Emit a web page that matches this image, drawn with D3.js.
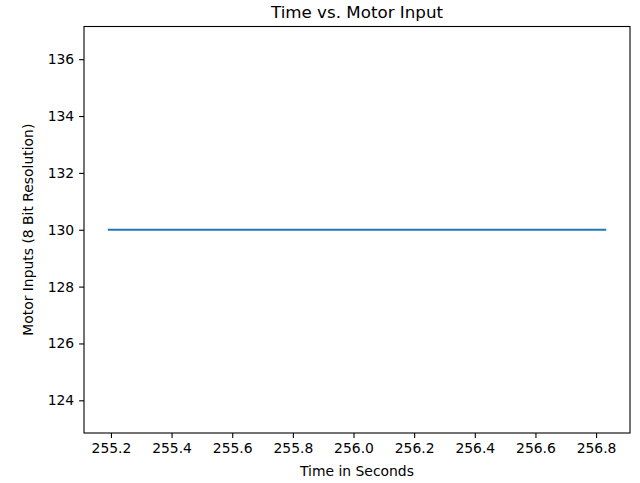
<!DOCTYPE html>
<html><head><meta charset="utf-8">
<script src="https://cdn.jsdelivr.net/npm/d3@7"></script>
<style>html,body{margin:0;padding:0;background:#fff;}svg{display:block;}</style>
</head><body>
<script>
const times = [255.193, 255.35, 255.52, 255.68, 255.85, 256.01, 256.18, 256.34, 256.51, 256.67, 256.83];
const motorInputs = [130, 130, 130, 130, 130, 130, 130, 130, 130, 130, 130];
const xTicks = [255.2, 255.4, 255.6, 255.8, 256.0, 256.2, 256.4, 256.6, 256.8];
const yTicks = [124, 126, 128, 130, 132, 134, 136];
const titleText = "Time vs. Motor Input";
const xLabel = "Time in Seconds";
const yLabel = "Motor Inputs (8 Bit Resolution)";

const W = 640, H = 483;
const m = {left: 84, right: 10, top: 26.5, bottom: 50};
const iw = W - m.left - m.right, ih = H - m.top - m.bottom;
const font = "'DejaVu Sans', sans-serif";

const svg = d3.select("body").append("svg").attr("width", W).attr("height", H);
const g = svg.append("g").attr("transform", `translate(${m.left},${m.top})`);

const xMin = d3.min(times), xMax = d3.max(times), xr = xMax - xMin;
const x = d3.scaleLinear().domain([xMin - 0.05 * xr, xMax + 0.05 * xr]).range([0, iw]);
const yv = 130, lo = yv - yv * 0.05, hi = yv + yv * 0.05, yr = hi - lo;
const y = d3.scaleLinear().domain([lo - 0.05 * yr, hi + 0.05 * yr]).range([ih, 0]);

const tk = 4.9;
const xa = g.append("g").attr("transform", `translate(0,${ih})`)
  .call(d3.axisBottom(x).tickValues(xTicks).tickFormat(d3.format(".1f")).tickSize(tk).tickPadding(4.9).tickSizeOuter(0));
const ya = g.append("g")
  .call(d3.axisLeft(y).tickValues(yTicks).tickFormat(d3.format("d")).tickSize(tk).tickPadding(4.9).tickSizeOuter(0));
[xa, ya].forEach(a => {
  a.select(".domain").remove();
  a.selectAll("line").attr("stroke", "#000").attr("stroke-width", 1.1);
  a.selectAll("text").attr("font-family", font).attr("font-size", 13.9).attr("fill", "#000");
});

g.append("path")
  .datum(times.map((t, i) => [t, motorInputs[i]]))
  .attr("fill", "none").attr("stroke", "#1f77b4").attr("stroke-width", 2.08)
  .attr("stroke-linecap", "square")
  .attr("d", d3.line().x(d => x(d[0])).y(d => y(d[1])));

g.append("rect").attr("x", 0).attr("y", 0).attr("width", iw).attr("height", ih)
  .attr("fill", "none").attr("stroke", "#000").attr("stroke-width", 1.1);

svg.append("text").attr("x", m.left + iw / 2).attr("y", m.top - 8.5)
  .attr("text-anchor", "middle").attr("font-family", font).attr("font-size", 16.7).text(titleText);
svg.append("text").attr("x", m.left + iw / 2).attr("y", 476)
  .attr("text-anchor", "middle").attr("font-family", font).attr("font-size", 13.9).text(xLabel);
svg.append("text").attr("transform", `translate(33,${m.top + ih / 2}) rotate(-90)`)
  .attr("text-anchor", "middle").attr("font-family", font).attr("font-size", 13.9).text(yLabel);
</script>
</body></html>
